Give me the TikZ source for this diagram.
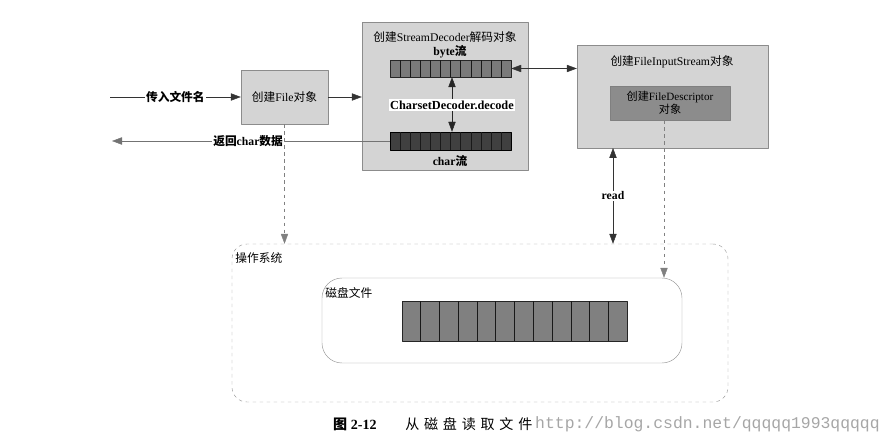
\documentclass[tikz,border=0pt]{standalone}
\usepackage{fontspec}
\setmainfont{Liberation Serif}
\setmonofont{Liberation Mono}
\newfontfamily\cjk{Noto Sans CJK SC}
\newfontfamily\cjkcap[LetterSpace=34]{Noto Sans CJK SC}
\newcommand\zh[1]{{\cjk #1}}
\usetikzlibrary{arrows.meta,calc}
\tikzset{
  box/.style={draw=black!45, fill=black!17, inner sep=0pt},
  bar/.style={draw=black!85, inner sep=0pt},
  lbl/.style={fill=white, text=black, inner sep=1pt, font=\bfseries},
  tip/.style={-{Triangle[length=3mm,width=2.2mm]}},
  tips/.style={{Triangle[length=3mm,width=2.2mm]}-{Triangle[length=3mm,width=2.2mm]}},
}
\begin{document}
\begin{tikzpicture}[x=0.3mm, y=-0.3mm, font=\fontsize{10}{12}\selectfont, line join=round]
\useasboundingbox (0,0) rectangle (888,447);
% boxes
\node[box, minimum width=26.1mm, minimum height=16.2mm] (file) at (284.5,97) {\zh{创建}File\zh{对象}};
\node[box, minimum width=49.8mm, minimum height=44.4mm] (sd) at (445,96) {};
\node[bar, fill=black!52, minimum width=36.3mm, minimum height=5.1mm] (byte) at (450.5,68.5) {};
\node[bar, draw=black, fill=black!75, minimum width=36.3mm, minimum height=5.4mm] (char) at (450.5,141) {};
\node[box, minimum width=57.3mm, minimum height=30.9mm] (fis) at (672.5,96.5) {};
\node[box, draw=black!50, fill=black!45, minimum width=36mm, minimum height=10.2mm, align=center, font=\fontsize{9.5}{11}\selectfont] (fd) at (670,103) {\zh{创建}FileDescriptor\\\zh{对象}};
\node[draw=black!40, dashed, rounded corners=4.5mm, minimum width=148.8mm, minimum height=47.4mm] (os) at (480,323) {};
\node[draw=black!40, rounded corners=6mm, minimum width=108mm, minimum height=25.5mm] (disk) at (502,320.5) {};
\node[bar, fill=black!50, minimum width=67.5mm, minimum height=12mm] (diskbar) at (514.5,321) {};
\foreach \b in {byte,char,diskbar}
  \foreach \i in {1,...,11}
    \draw[black!90] ($(\b.south west)!\i/12!(\b.south east)$) -- ($(\b.north west)!\i/12!(\b.north east)$);
% texts
\node (sdt) at (445,37) {\zh{创建}StreamDecoder\zh{解码对象}};
\node[font=\bfseries] (bytet) at (450,52) {byte\zh{流}};
\node[font=\bfseries] (chart) at (450,161) {char\zh{流}};
\node (fist) at (672,62) {\zh{创建}FileInputStream\zh{对象}};
\node[anchor=west, inner sep=1pt] (ost) at (234,258) {\zh{操作系统}};
\node[anchor=west, inner sep=1pt] (diskt) at (324,293) {\zh{磁盘文件}};
\node[lbl, font=\bfseries\fontsize{10.5}{12}\selectfont] (dec) at (452,105) {CharsetDecoder.decode};
% connectors
\coordinate (in) at (110,97);
\coordinate (out) at (112,141);
\draw[tip, black!80] (in) -- node[lbl]{\zh{传入文件名}} (file.west);
\draw[tip, black!80] (file.east) -- (file.east -| sd.west);
\draw[tip, black!55] (char.west) -- node[lbl, pos=0.51]{\zh{返回}char\zh{数据}} (out);
\draw[tip, black!85] (dec.north) -- (dec.north |- byte.south);
\draw[tip, black!85] (dec.south) -- (dec.south |- char.north);
\draw[tips, black!80] (byte.east) -- (byte.east -| fis.west);
\coordinate (rd) at (613,148);
\draw[tips, black!80] (rd) -- node[lbl]{read} (rd |- os.north);
\draw[tip, dashed, black!50] (file.south) -- (file.south |- os.north);
\draw[tip, dashed, black!50] ([xshift=-1.8mm]fd.south) -- ([xshift=-1.8mm]fd.south |- disk.north);
% caption
\node[anchor=west, inner sep=0pt, font=\fontsize{12}{14}\selectfont] (cap) at (333,424) {\textbf{\zh{图} 2-12}\hspace{8.6mm}{\cjkcap 从磁盘读取文件}};
\node[anchor=west, inner sep=0pt, text=black!35, font=\ttfamily\fontsize{14}{16}\selectfont] (wm) at (535,424) {http://blog.csdn.net/qqqqq1993qqqqq};
\end{tikzpicture}
\end{document}
